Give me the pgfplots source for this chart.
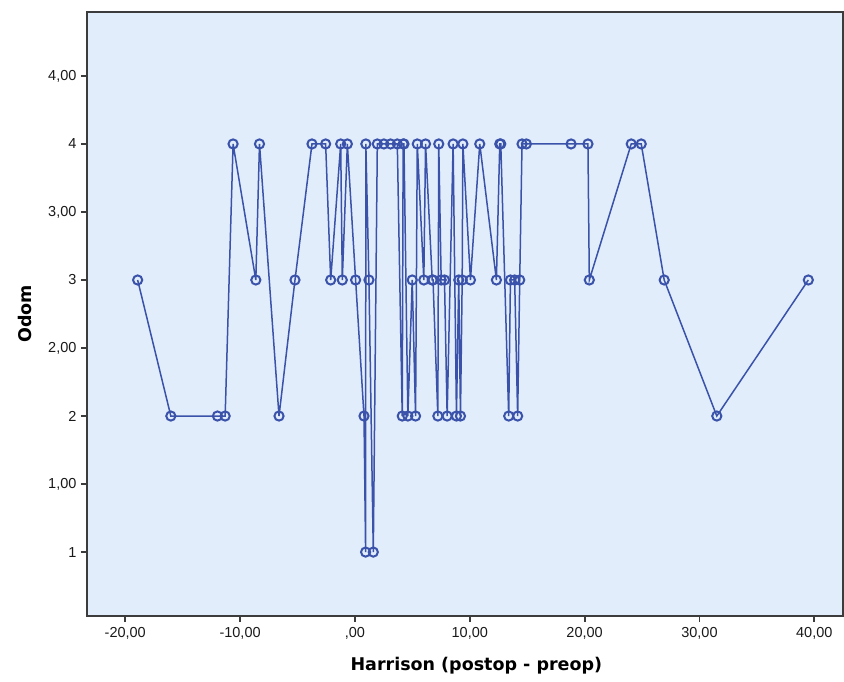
\documentclass[border=0pt]{standalone}
\usepackage{fontspec}
\setmainfont{Liberation Sans}
\newfontfamily\labfont{DejaVu Sans}
\usepackage{pgfplots}
\pgfplotsset{compat=1.18}
\definecolor{bgblue}{RGB}{225,237,250}
\definecolor{lineblue}{RGB}{58,82,170}
\definecolor{frame}{RGB}{60,60,60}
\begin{document}
\begin{tikzpicture}
\begin{axis}[
  scale only axis,
  width=756pt, height=604pt,
  xmin=-23.33, xmax=42.5,
  ymin=0.53, ymax=4.97,
  axis background/.style={fill=bgblue},
  axis line style={frame, line width=1.5pt},
  every tick/.style={frame, line width=1.8pt},
  tick align=outside,
  major tick length=6pt,
  xtick pos=bottom, ytick pos=left,
  xtick={-20,-10,0,10,20,30,40},
  xticklabels={{-20,00},{-10,00},{,00},{10,00},{20,00},{30,00},{40,00}},
  ytick={1,1.5,2,2.5,3,3.5,4,4.5},
  yticklabels={1,{1,00},2,{2,00},3,{3,00},4,{4,00}},
  tick label style={font=\fontsize{14.5}{16}\selectfont, text=black!90},
  xticklabel style={yshift=-2pt},
  yticklabel style={xshift=-1pt},
  /pgf/number format/assume math mode=true,
  xlabel={Harrison (postop - preop)},
  ylabel={Odom},
  label style={font=\labfont\bfseries\fontsize{17.5}{19}\selectfont},
  xlabel style={at={(axis description cs:0.515,-0.091)}, anchor=base},
  ylabel style={at={(axis description cs:-0.074,0.5)}, anchor=base},
  clip=false,
]
\addplot[color=lineblue, line width=1.5pt, mark=o,
  mark options={line width=2pt, solid}, mark size=4.6pt] coordinates {
(-18.92,3) (-16.03,2) (-11.97,2) (-11.30,2) (-10.61,4) (-8.63,3) (-8.31,4)
(-6.61,2) (-5.22,3) (-3.74,4) (-2.55,4) (-2.11,3) (-1.24,4) (-1.10,3)
(-0.66,4) (0.06,3) (0.79,2) (0.93,1) (0.95,4) (1.22,3) (1.60,1) (1.95,4)
(2.52,4) (3.10,4) (3.69,4) (4.12,2) (4.20,4) (4.27,4) (4.61,2) (4.99,3)
(5.28,2) (5.43,4) (6.00,3) (6.15,4) (6.73,3) (6.80,3) (7.22,2) (7.30,4)
(7.51,3) (7.80,3) (8.03,2) (8.55,4) (8.84,2) (9.04,3) (9.19,2) (9.34,3)
(9.40,4) (10.06,3) (10.87,4) (12.32,3) (12.61,4) (12.70,4) (13.39,2)
(13.54,3) (13.91,3) (14.17,2) (14.35,3) (14.55,4) (14.93,4) (18.82,4)
(20.29,4) (20.41,3) (24.06,4) (24.93,4) (26.93,3) (31.51,2) (39.48,3)
};
\path ([shift={(-87pt,-65pt)}]rel axis cs:0,0) rectangle ([shift={(1pt,12pt)}]rel axis cs:1,1);
\end{axis}
\end{tikzpicture}
\end{document}
